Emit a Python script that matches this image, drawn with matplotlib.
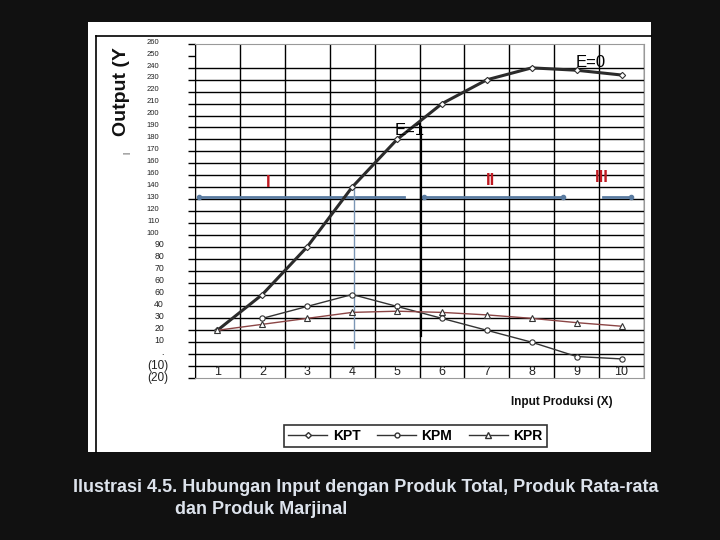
import matplotlib
matplotlib.use('Agg')
import matplotlib.pyplot as plt
from matplotlib.lines import Line2D
from matplotlib.patches import Rectangle
from matplotlib.transforms import blended_transform_factory
import numpy as np

plt.rcParams['font.family'] = ['Liberation Sans', 'DejaVu Sans']

# data
x_input = [1, 2, 3, 4, 5, 6, 7, 8, 9, 10]
kpt = [20, 50, 90, 140, 180, 210, 230, 240, 238, 234]
kpm = [np.nan, 30, 40, 50, 40, 30, 20, 10, -2, -4]
kpr = [20, 25, 30, 35, 36, 35, 32.9, 30, 26.4, 23.4]

y_ticks = [260, 250, 240, 230, 220, 210, 200, 190, 180, 170, 160, 150, 140,
           130, 120, 110, 100, 90, 80, 70, 60, 50, 40, 30, 20, 10, 0, -10, -20]
y_tick_labels = ['260', '250', '240', '230', '220', '210', '200', '190', '180',
                 '170', '160', '160', '140', '130', '120', '110', '100', '90',
                 '80', '70', '60', '60', '40', '30', '20', '10', '.', '(10)',
                 '(20)']
x_tick_labels = ['1', '2', '3', '4', '5', '6', '7', '8', '9', '10']

W, H = 720, 540


def fx(px):
    return px / W


def fy(py):
    return 1 - py / H


fig = plt.figure(figsize=(7.2, 5.4), dpi=100, facecolor='#111111')

# white panel with its frame
fig.patches.append(Rectangle((fx(88), fy(452)), fx(651) - fx(88), fy(22) - fy(452),
                             transform=fig.transFigure, facecolor='white',
                             edgecolor='none', zorder=-5))
fig.lines.append(Line2D([fx(96), fx(651)], [fy(36), fy(36)], color='black',
                        lw=1.2, transform=fig.transFigure, zorder=-4))
fig.lines.append(Line2D([fx(96), fx(96)], [fy(36), fy(452)], color='black',
                        lw=1.2, transform=fig.transFigure, zorder=-4))

ax = fig.add_axes([fx(195), fy(378), fx(644) - fx(195), fy(44) - fy(378)])
ax.set_xlim(0.5, 10.5)
ax.set_ylim(-20, 260)
ax.set_facecolor('white')

# grid
for v in y_ticks:
    if v in (250, 260, -20):
        continue
    ax.axhline(v, color='black', lw=1.0, zorder=1)
for b in np.arange(0.5, 11, 1.0):
    ax.axvline(b, color='black', lw=1.0, zorder=1)

for side in ['top', 'right', 'bottom']:
    ax.spines[side].set_color('#999999')
ax.spines['left'].set_color('black')
ax.set_xticks([])
ax.set_yticks(y_ticks)
ax.set_yticklabels([])
ax.tick_params(axis='y', length=5, direction='out', width=1)

# y tick labels, small and uneven like the scan
trans = blended_transform_factory(fig.transFigure, ax.transData)
for v, lab in zip(y_ticks, y_tick_labels):
    if lab.startswith('('):
        ax.text(fx(168), v, lab, transform=trans, ha='right', va='center',
                fontsize=8.5, color='#222222')
    elif len(lab) == 3:
        ax.text(fx(159), v + 1.5, lab, transform=trans, ha='right', va='center',
                fontsize=5.5, color='#222222')
    else:
        ax.text(fx(164), v + 1.5, lab, transform=trans, ha='right', va='center',
                fontsize=6.3, color='#222222')

for xi, lab in zip(x_input, x_tick_labels):
    ax.text(xi, -15, lab, ha='center', va='center', fontsize=9, color='#222222')

# series
ax.plot(x_input, kpt, color='#2b2b2b', lw=2.2, marker='D', ms=3.2,
        mfc='white', mec='#333333', mew=0.8, zorder=4)
ax.plot(x_input, kpm, color='#333333', lw=1.0, marker='o', ms=3.8,
        mfc='white', mec='#333333', mew=0.8, zorder=4)
ax.plot(x_input, kpr, color='#8b4545', lw=1.0, marker='^', ms=5,
        mfc='white', mec='#333333', mew=0.8, zorder=5)

# stage markers
blue = '#5a7ba0'
ax.plot([0.59, 5.16], [132, 132], color=blue, lw=2, marker='o', ms=3,
        markevery=[0], zorder=3)
ax.plot([5.59, 8.69], [132, 132], color=blue, lw=2, marker='o', ms=3, zorder=3)
ax.plot([9.58, 10.21], [132, 132], color=blue, lw=2, marker='o', ms=3,
        markevery=[1], zorder=3)
ax.plot([4.04, 4.04], [140, 5], color='#7b96b5', lw=1.0, zorder=3)
ax.plot([5.53, 5.53], [190, 15], color='black', lw=1.6, zorder=3)

ax.text(5.28, 187.6, 'E=1', ha='center', va='center', fontsize=12, zorder=6)
ax.text(9.32, 244.7, 'E=0', ha='center', va='center', fontsize=12, zorder=6)
red = '#c01a22'
ax.text(2.13, 144, 'I', ha='center', va='center', fontsize=12,
        fontweight='bold', color=red)
ax.text(7.08, 145.5, 'II', ha='center', va='center', fontsize=12,
        fontweight='bold', color=red)
ax.text(9.56, 148.3, 'III', ha='center', va='center', fontsize=12,
        fontweight='bold', color=red)

# axis titles
fig.text(fx(121), fy(92), 'Output (Y', rotation=90, ha='center', va='center',
         fontsize=14, fontweight='bold', color='#111111')
fig.text(fx(127), fy(153), '|', rotation=90, ha='center', va='center',
         fontsize=6, color='#111111')
fig.text(fx(562), fy(402), 'Input Produksi (X)', ha='center', va='center',
         fontsize=8.5, fontweight='bold', color='#111111')

# legend
handles = [
    Line2D([], [], color='#333333', lw=1, marker='D', ms=3, mfc='white', mec='#333333'),
    Line2D([], [], color='#333333', lw=1, marker='o', ms=3.5, mfc='white', mec='#333333'),
    Line2D([], [], color='#333333', lw=1, marker='^', ms=4, mfc='white', mec='#333333'),
]
leg = fig.legend(handles, ['KPT', 'KPM', 'KPR'], loc='center',
                 bbox_to_anchor=(fx(415.5), fy(436)), ncol=3, frameon=True,
                 fancybox=False, edgecolor='black', fontsize=10,
                 handlelength=2.8, columnspacing=1.2, handletextpad=0.4,
                 borderpad=0.3)
leg.get_frame().set_linewidth(1.2)
for t in leg.get_texts():
    t.set_fontweight('bold')

# caption
cap = '#dde3ec'
fig.text(fx(73), fy(488), 'Ilustrasi 4.5. Hubungan Input dengan Produk Total, Produk Rata-rata',
         ha='left', va='center', fontsize=13, fontweight='bold', color=cap)
fig.text(fx(175), fy(510), 'dan Produk Marjinal', ha='left', va='center',
         fontsize=13, fontweight='bold', color=cap)

fig.savefig('out.png', dpi=100, facecolor=fig.get_facecolor())
